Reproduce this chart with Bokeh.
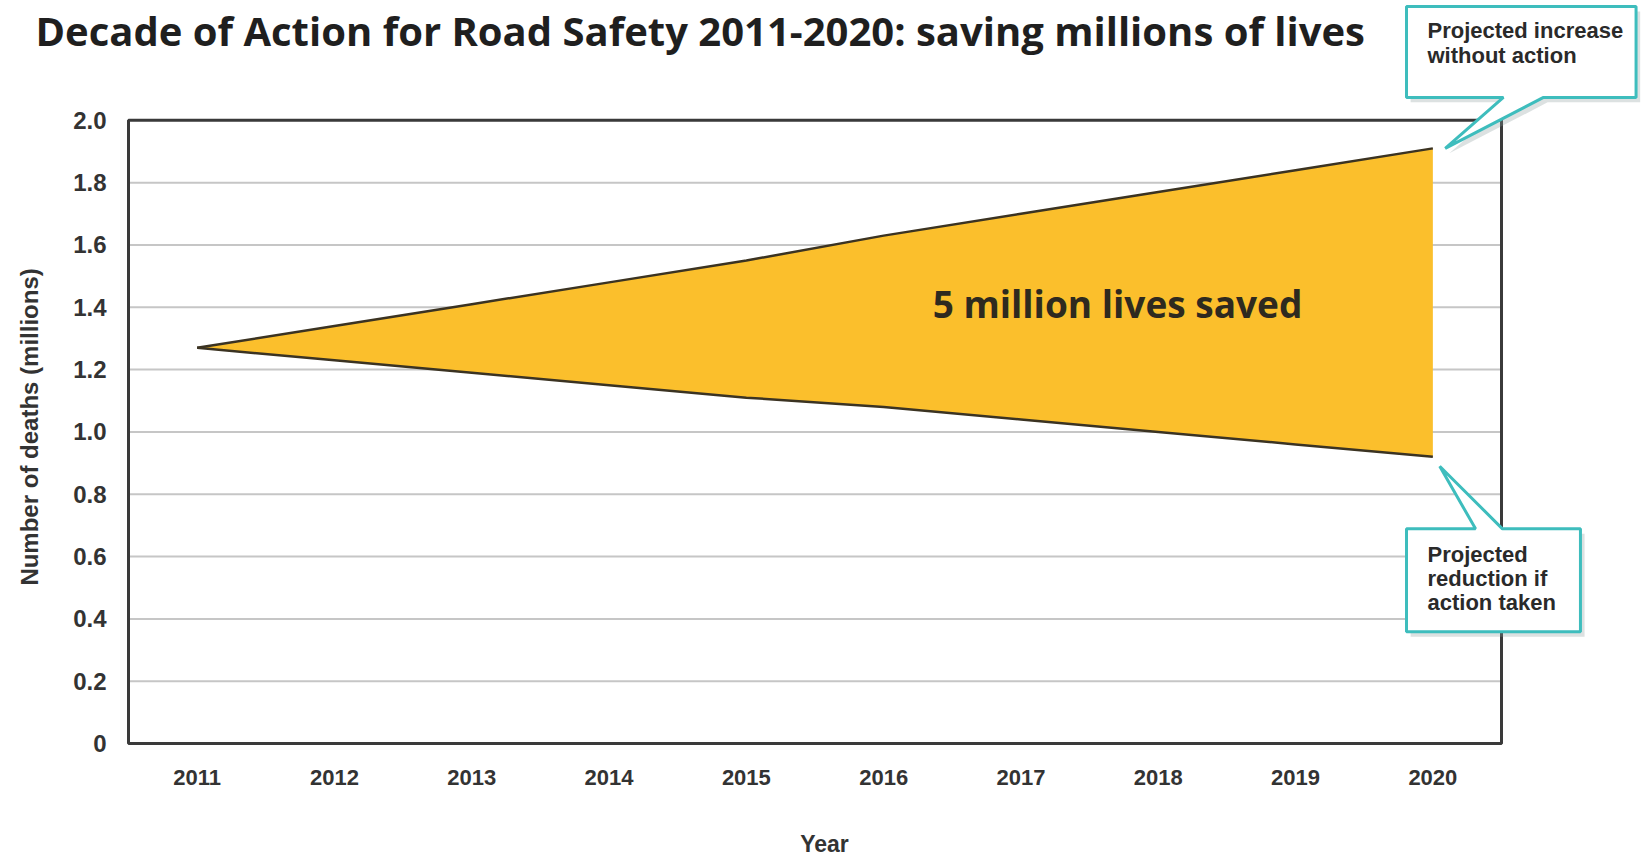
import math
from bokeh.plotting import figure
from bokeh.models import Range1d, FixedTicker, PrintfTickFormatter, Label, PolyAnnotation, ColumnDataSource
from bokeh.embed import file_html
from bokeh.resources import INLINE

# ---------------- data ----------------
title_text = "Decade of Action for Road Safety 2011-2020: saving millions of lives"
years = [2011, 2012, 2013, 2014, 2015, 2016, 2017, 2018, 2019, 2020]
without_action = [1.27, 1.34, 1.41, 1.48, 1.55, 1.63, 1.70, 1.77, 1.84, 1.91]
with_action = [1.27, 1.23, 1.19, 1.15, 1.11, 1.08, 1.04, 1.00, 0.96, 0.92]
y_ticks = [0, 0.2, 0.4, 0.6, 0.8, 1.0, 1.2, 1.4, 1.6, 1.8, 2.0]
band_label = "5 million lives saved"
callout_up = ["Projected increase", "without action"]
callout_down = ["Projected", "reduction if", "action taken"]
x_label = "Year"
y_label = "Number of deaths (millions)"

TXT = "#2a2a2a"
FONT = "Liberation Sans"

x_lo, x_hi = years[0] - 0.5, years[-1] + 0.5     # chart box
y_lo, y_hi = y_ticks[0], y_ticks[-1]

src = ColumnDataSource(dict(year=years, up=without_action, low=with_action))
grid_src = ColumnDataSource(dict(y=y_ticks[1:-1]))

# the frame covers the whole canvas width (so the call-outs are not clipped);
# the visible chart box is drawn inside it
p = figure(width=1648, height=859, output_backend="svg", toolbar_location=None,
           x_range=Range1d(2009.5677, 2021.5706), y_range=Range1d(-0.041667, 2.38462),
           min_border_left=0, min_border_right=0, min_border_top=0, min_border_bottom=102)
p.background_fill_color = "white"
p.border_fill_color = "white"
p.outline_line_color = None
p.grid.visible = False

# axes
for ax in (p.xaxis[0], p.yaxis[0]):
    ax.axis_line_color = None
    ax.major_tick_line_color = None
    ax.minor_tick_line_color = None
    ax.major_tick_out = 0
    ax.major_tick_in = 0
    ax.major_label_text_font = FONT
    ax.major_label_text_font_style = "bold"
    ax.major_label_text_color = "#333333"

p.xaxis.ticker = FixedTicker(ticks=years)
p.xaxis.major_label_text_font_size = "22px"
p.xaxis.major_label_standoff = 13
p.xaxis.axis_label = x_label
p.xaxis.axis_label_text_font = FONT
p.xaxis.axis_label_text_font_style = "bold"
p.xaxis.axis_label_text_font_size = "23px"
p.xaxis.axis_label_text_color = "#333333"
p.xaxis.axis_label_standoff = 43

p.yaxis.fixed_location = x_lo
p.yaxis.ticker = FixedTicker(ticks=y_ticks)
p.yaxis.formatter = PrintfTickFormatter(format="%.1f")
p.yaxis.major_label_overrides = {0: "0"}
p.yaxis.major_label_text_font_size = "24px"
p.yaxis.major_label_standoff = 22

# grid lines and chart box
p.segment(x0=x_lo, x1=x_hi, y0="y", y1="y", source=grid_src, line_color="#c6c6c6", line_width=2)
p.quad(left=x_lo, right=x_hi, bottom=y_lo, top=y_hi, fill_color=None,
       line_color="#3a3a3a", line_width=3)

# band
p.varea(x="year", y1="low", y2="up", source=src, fill_color="#FBBF2C")
p.line(x="year", y="up", source=src, line_color="#3b3322", line_width=2.5)
p.line(x="year", y="low", source=src, line_color="#3b3322", line_width=2.5)

p.add_layout(Label(x=2017.703, y=1.412, text=band_label, text_align="center", text_baseline="middle",
                   text_font="Open Sans", text_font_style="bold", text_font_size="37px",
                   text_color="#2e2a1f"))

# title and y-axis label
p.add_layout(Label(x=2009.8227, y=2.2885, text=title_text, text_font="Open Sans",
                   text_font_style="bold", text_font_size="40px", text_color="#1f1f1f",
                   text_baseline="alphabetic"))
p.add_layout(Label(x=2009.779, y=1.016, text=y_label, angle=math.pi / 2, text_align="center",
                   text_baseline="middle", text_font=FONT, text_font_style="bold",
                   text_font_size="24px", text_color="#333333"))

# call-outs
teal = "#3ebdbd"

def callout(xs, ys):
    shadow = PolyAnnotation(xs=[x + 0.03 for x in xs], ys=[y - 0.016 for y in ys],
                            fill_color="#8a9a9a", fill_alpha=0.3, line_color=None)
    box = PolyAnnotation(xs=xs, ys=ys, fill_color="white", fill_alpha=1.0,
                         line_color=teal, line_width=3, line_alpha=1.0)
    p.add_layout(shadow)
    p.add_layout(box)

# upper call-out, pointing at the end of the "without action" line
L, R, T, B = 2019.808, 2021.480, 2.3654, 2.0737
tip = (years[-1] + 0.09, without_action[-1])
callout([L, R, R, 2020.806, tip[0], 2020.514, L],
        [T, T, B, B, tip[1], B, B])

# lower call-out, pointing at the end of the "with action" line
L2, R2, T2, B2 = 2019.808, 2021.075, 0.689, 0.359
tip2 = (years[-1] + 0.05, with_action[-1] - 0.03)
callout([L2, 2020.311, tip2[0], 2020.507, R2, R2, L2],
        [T2, T2, tip2[1], T2, T2, B2, B2])

up_y = [2.2885, 2.2083]
for line, yy in zip(callout_up, up_y):
    p.add_layout(Label(x=2019.961, y=yy, text=line, text_font=FONT,
                       text_font_style="bold", text_font_size="22px", text_color=TXT,
                       text_baseline="alphabetic"))
for i, line in enumerate(callout_down):
    p.add_layout(Label(x=2019.961, y=0.6074 - i * 0.078, text=line, text_font=FONT,
                       text_font_style="bold", text_font_size="22px", text_color=TXT,
                       text_baseline="alphabetic"))

open("out.html", "w").write(file_html(p, INLINE))
